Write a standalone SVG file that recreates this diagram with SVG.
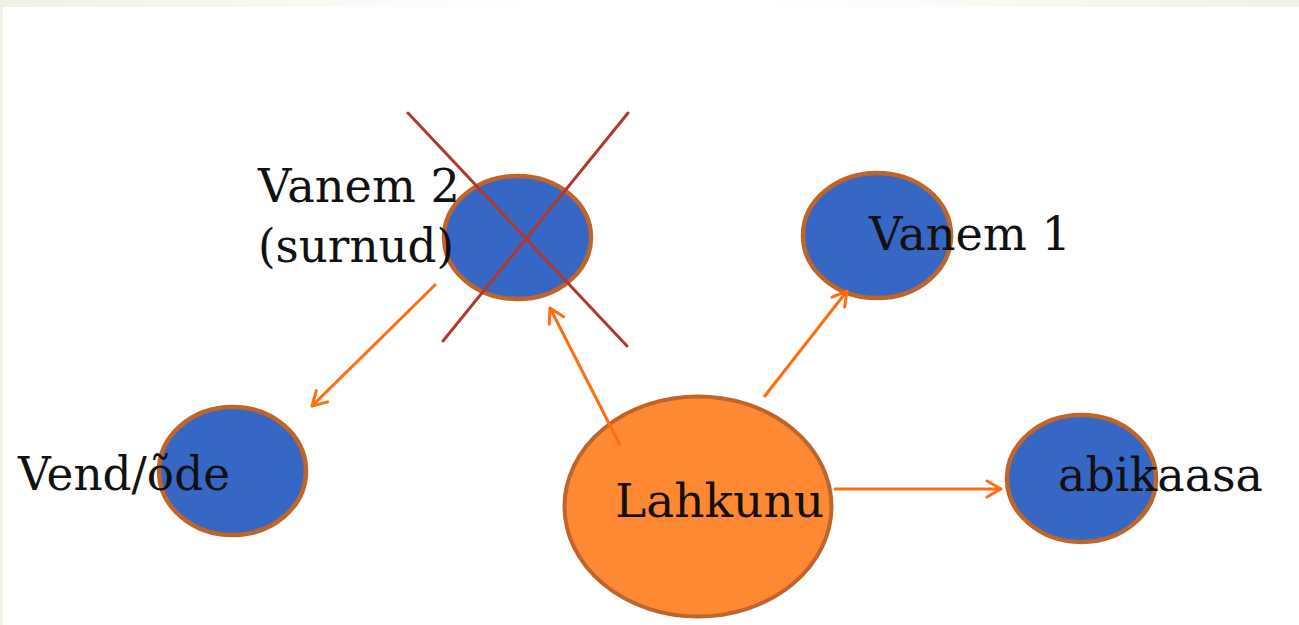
<svg xmlns="http://www.w3.org/2000/svg" width="1299" height="625" viewBox="0 0 1299 625">
<defs>
<linearGradient id="bg" x1="0" y1="0" x2="1" y2="0">
<stop offset="0" stop-color="#eef2e2"/>
<stop offset="0.4" stop-color="#ffffff"/>
<stop offset="0.6" stop-color="#ffffff"/>
<stop offset="1" stop-color="#eef3e3"/>
</linearGradient>
<marker id="arr" viewBox="0 0 20 20" refX="18" refY="10" markerWidth="20" markerHeight="20" markerUnits="userSpaceOnUse" orient="auto">
<path d="M4,2 L18,10 L4,18" fill="none" stroke="#ff6d0f" stroke-width="3" stroke-linecap="round" stroke-linejoin="round"/>
</marker>
<style>
.blue{fill:#3667c4;stroke:#c0652a;stroke-width:4.5}
.orange{fill:#ff8833;stroke:#c0652a;stroke-width:4}
.conn{stroke:#ff6d0f;stroke-width:3;fill:none;marker-end:url(#arr)}
.cross{stroke:#b0392d;stroke-width:3;stroke-linecap:round}
.lbl{font-family:"DejaVu Serif","Liberation Serif",serif;font-size:47px;fill:#111}
</style>
</defs>
<rect x="0" y="0" width="1299" height="625" fill="url(#bg)"/>
<rect x="3" y="7" width="1296" height="618" fill="#ffffff"/>

<g id="vanem2">
<ellipse class="blue" cx="517.5" cy="237.5" rx="73.5" ry="61.5"/>
<text class="lbl" x="258" y="202" textLength="202" lengthAdjust="spacingAndGlyphs">Vanem 2</text>
<text class="lbl" x="258" y="262" textLength="196" lengthAdjust="spacingAndGlyphs">(surnud)</text>
<line class="cross" x1="408" y1="113" x2="627" y2="346"/>
<line class="cross" x1="628" y1="113" x2="443" y2="341"/>
</g>

<g id="vanem1">
<ellipse class="blue" cx="877" cy="235.5" rx="74" ry="62.5"/>
<text class="lbl" x="869" y="250" textLength="202" lengthAdjust="spacingAndGlyphs">Vanem 1</text>
</g>

<g id="vend">
<ellipse class="blue" cx="232.5" cy="471" rx="73.5" ry="64"/>
<text class="lbl" x="18" y="490" textLength="212" lengthAdjust="spacingAndGlyphs">Vend/õde</text>
</g>

<g id="abikaasa">
<ellipse class="blue" cx="1081.5" cy="478.5" rx="74.5" ry="63.5"/>
<text class="lbl" x="1058" y="491" textLength="205" lengthAdjust="spacingAndGlyphs">abikaasa</text>
</g>

<g id="lahkunu">
<ellipse class="orange" cx="698" cy="506.5" rx="133.5" ry="110"/>
<text class="lbl" x="615" y="517" textLength="209" lengthAdjust="spacingAndGlyphs">Lahkunu</text>
</g>

<g id="connectors">
<line class="conn" x1="620" y1="445" x2="550" y2="308"/>
<line class="conn" x1="764" y1="397" x2="847" y2="291"/>
<line class="conn" x1="834" y1="489" x2="1001" y2="489"/>
<line class="conn" x1="436" y1="284" x2="312" y2="406"/>
</g>
</svg>
